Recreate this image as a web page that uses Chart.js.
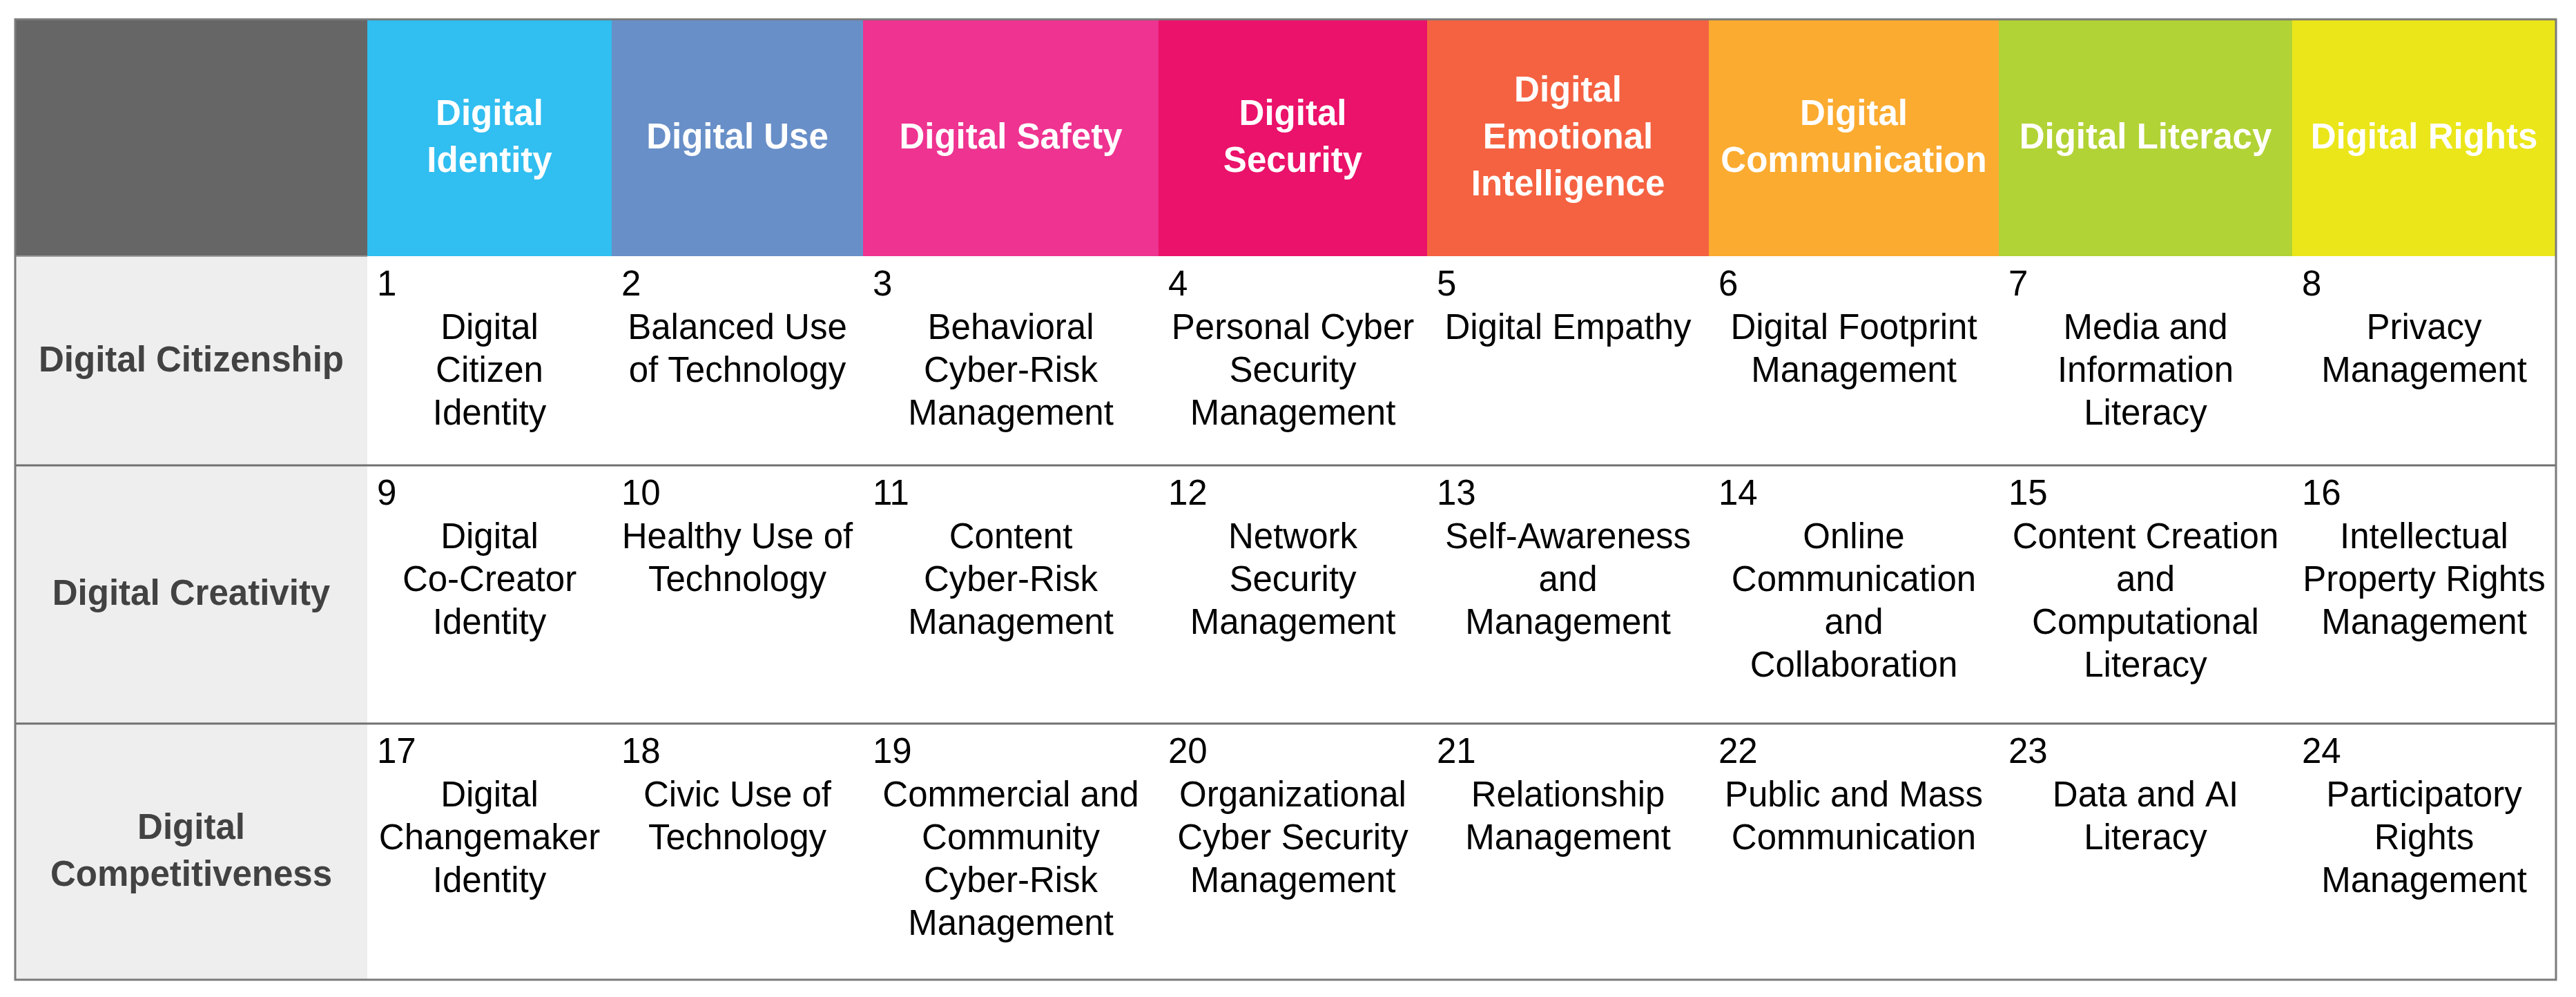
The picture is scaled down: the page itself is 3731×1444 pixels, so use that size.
<!DOCTYPE html>
<html>
<head>
<meta charset="utf-8">
<script src="https://cdn.jsdelivr.net/npm/chart.js@4.4.0/dist/chart.umd.min.js"></script>
<style>
  html, body { margin: 0; padding: 0; background: #fff; }
  #wrap { width: 3731px; height: 1444px; }
</style>
</head>
<body>
<div id="wrap"><canvas id="framework" width="3731" height="1444"></canvas></div>
<script>
// column headers (competency areas)
const competencies = [
  'Digital\nIdentity', 'Digital Use', 'Digital Safety', 'Digital\nSecurity',
  'Digital\nEmotional\nIntelligence', 'Digital\nCommunication', 'Digital Literacy', 'Digital Rights'
];
// row headers (levels)
const levels = ['Digital Citizenship', 'Digital Creativity', 'Digital\nCompetitiveness'];

const citizenshipNumbers = [1, 2, 3, 4, 5, 6, 7, 8];
const creativityNumbers = [9, 10, 11, 12, 13, 14, 15, 16];
const competitivenessNumbers = [17, 18, 19, 20, 21, 22, 23, 24];

const citizenshipItems = [
  'Digital\nCitizen\nIdentity', 'Balanced Use\nof Technology', 'Behavioral\nCyber-Risk\nManagement',
  'Personal Cyber\nSecurity\nManagement', 'Digital Empathy', 'Digital Footprint\nManagement',
  'Media and\nInformation\nLiteracy', 'Privacy\nManagement'
];
const creativityItems = [
  'Digital\nCo-Creator\nIdentity', 'Healthy Use of\nTechnology', 'Content\nCyber-Risk\nManagement',
  'Network\nSecurity\nManagement', 'Self-Awareness\nand\nManagement', 'Online\nCommunication\nand\nCollaboration',
  'Content Creation\nand\nComputational\nLiteracy', 'Intellectual\nProperty Rights\nManagement'
];
const competitivenessItems = [
  'Digital\nChangemaker\nIdentity', 'Civic Use of\nTechnology', 'Commercial and\nCommunity\nCyber-Risk\nManagement',
  'Organizational\nCyber Security\nManagement', 'Relationship\nManagement', 'Public and Mass\nCommunication',
  'Data and AI\nLiteracy', 'Participatory\nRights\nManagement'
];

// layout / style
const colWidths = [510, 354, 364, 428, 389, 408, 420, 425, 382];
const rowHeights = [343, 303, 374, 371];
const headerColors = ['#31bef0', '#688fc8', '#ee3391', '#ea126a', '#f56241', '#fbab30', '#b2d335', '#ebe61a'];
const FONT = '"Liberation Sans", Arial, sans-serif';

const rowNumbers = [citizenshipNumbers, creativityNumbers, competitivenessNumbers];
const rowItems = [citizenshipItems, creativityItems, competitivenessItems];

const edges = arr => arr.reduce((acc, w) => { acc.push(acc[acc.length - 1] + w); return acc; }, [0]);
const colEdges = edges(colWidths);
const rowEdges = edges(rowHeights);

function drawLines(ctx, text, cx, midY, lh) {
  const lines = text.split('\n');
  const first = midY - (lines.length - 1) * lh / 2;
  lines.forEach((l, k) => ctx.fillText(l, cx, first + k * lh));
}

const tablePlugin = {
  id: 'tableCells',
  beforeDraw(chart) {
    const { ctx, scales: { x, y } } = chart;
    const X = i => x.getPixelForValue(colEdges[i]);
    const Y = j => y.getPixelForValue(rowEdges[j]);
    ctx.save();
    ctx.fillStyle = '#fff';
    ctx.fillRect(0, 0, chart.width, chart.height);

    // header row
    ctx.fillStyle = '#666666';
    ctx.fillRect(X(0), Y(0), X(1) - X(0), Y(1) - Y(0));
    ctx.textAlign = 'center';
    ctx.textBaseline = 'alphabetic';
    ctx.font = 'bold 51px ' + FONT;
    competencies.forEach((name, i) => {
      ctx.fillStyle = headerColors[i];
      ctx.fillRect(X(i + 1), Y(0), X(i + 2) - X(i + 1), Y(1) - Y(0));
      ctx.fillStyle = '#ffffff';
      drawLines(ctx, name, (X(i + 1) + X(i + 2)) / 2, (Y(0) + Y(1)) / 2 + 15, 68);
    });

    // level labels
    levels.forEach((lvl, r) => {
      ctx.fillStyle = '#eeeeee';
      ctx.fillRect(X(0), Y(r + 1), X(1) - X(0), Y(r + 2) - Y(r + 1));
      ctx.fillStyle = '#424242';
      ctx.font = 'bold 51px ' + FONT;
      drawLines(ctx, lvl, (X(0) + X(1)) / 2, (Y(r + 1) + Y(r + 2)) / 2 + 15, 68);
    });

    // competency cells
    ctx.font = '51px ' + FONT;
    ctx.fillStyle = '#000';
    rowItems.forEach((items, r) => {
      const top = Y(r + 1);
      items.forEach((txt, c) => {
        ctx.textAlign = 'left';
        ctx.fillText(String(rowNumbers[r][c]), X(c + 1) + 14, top + 57);
        ctx.textAlign = 'center';
        const cx = (X(c + 1) + X(c + 2)) / 2;
        txt.split('\n').forEach((l, k) => ctx.fillText(l, cx, top + 120 + k * 62));
      });
    });

    // rules
    ctx.strokeStyle = '#9a9a9a';
    ctx.lineWidth = 2;
    ctx.beginPath();
    ctx.moveTo(X(0), Y(1)); ctx.lineTo(X(1), Y(1));
    ctx.stroke();
    ctx.strokeStyle = '#707070';
    ctx.lineWidth = 3;
    [2, 3].forEach(j => {
      ctx.beginPath();
      ctx.moveTo(X(0), Y(j)); ctx.lineTo(X(colWidths.length), Y(j));
      ctx.stroke();
    });
    ctx.strokeStyle = '#7a7a7a';
    ctx.strokeRect(X(0), Y(0), X(colWidths.length) - X(0), Y(rowHeights.length) - Y(0));
    ctx.restore();
  }
};

new Chart(document.getElementById('framework'), {
  type: 'scatter',
  data: { datasets: [] },
  options: {
    responsive: false,
    animation: false,
    layout: { padding: { left: 22, top: 28, right: 29, bottom: 25 } },
    plugins: { legend: { display: false }, tooltip: { enabled: false } },
    scales: {
      x: { type: 'linear', min: 0, max: colEdges[colEdges.length - 1], display: false },
      y: { type: 'linear', min: 0, max: rowEdges[rowEdges.length - 1], reverse: true, display: false }
    }
  },
  plugins: [tablePlugin]
});
</script>
</body>
</html>
